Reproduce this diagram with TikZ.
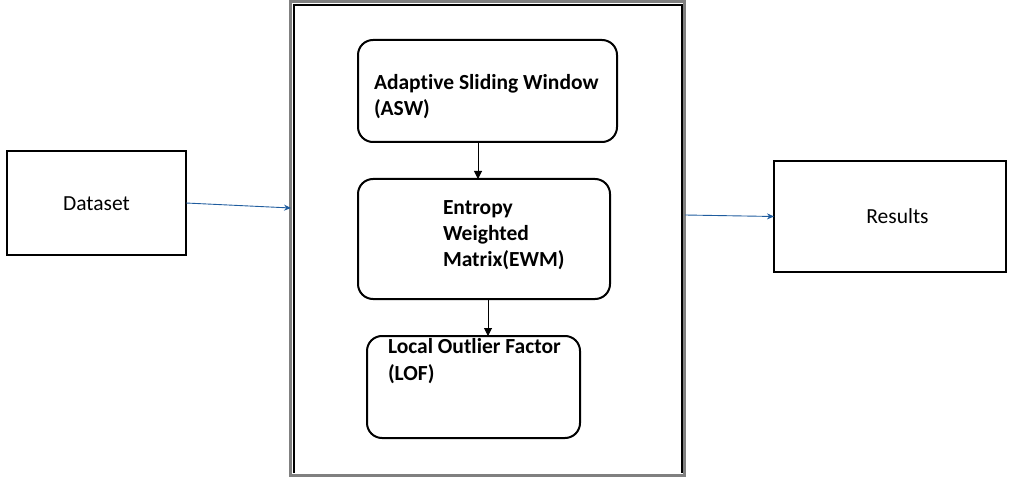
\documentclass[tikz,border=0pt]{standalone}
\usepackage{fontspec}
\setmainfont[Ligatures=NoCommon]{Carlito}
\usetikzlibrary{arrows.meta}
\definecolor{flowblue}{HTML}{1F5C9E}
\definecolor{framegray}{HTML}{808080}
\begin{document}
\begin{tikzpicture}[x=1pt,y=-1pt,
    every node/.style={inner sep=0pt,outer sep=0pt},
    plainbox/.style={draw,line width=2pt},
    stagebox/.style={draw,line width=2pt,rounded corners=15pt},
    stagetext/.style={anchor=base west,align=left,font=\fontsize{21.5}{26.4}\selectfont\bfseries},
    boxtext/.style={font=\fontsize{21.5}{26}\selectfont},
    flow/.style={-{Stealth[length=7pt,width=6pt]},flowblue,line width=0.9pt},
    stagearrow/.style={-{Triangle[length=8pt,width=8pt]},line width=1pt}]
    \useasboundingbox (0,0) rectangle (1022,494);
    % outer frame (gray outside, black inside, open at the bottom)
    \draw[framegray,line width=3pt] (290.5,1.5) rectangle (684.5,475.5);
    \draw[line width=2.5pt] (294,473) -- (294,5) -- (682,5) -- (682,473);
    % input and output
    \node[plainbox,minimum width=179pt,minimum height=104pt] (dataset) at (96.5,203) {};
    \node[boxtext,anchor=base] (datasettext) at (96.5,211) {Dataset};
    \node[plainbox,minimum width=232pt,minimum height=111pt] (results) at (890,216.5) {};
    \node[boxtext,anchor=base] (resultstext) at (897.5,224) {Results};
    % stages inside the frame (text anchored at its last baseline)
    \node[stagebox,minimum width=259pt,minimum height=102pt] (asw) at (487.5,91) {};
    \node[stagetext] (aswtext) at (374,116) {Adaptive Sliding Window\\(ASW)};
    \node[stagebox,minimum width=252pt,minimum height=120pt] (ewm) at (484,239) {};
    \node[stagetext] (ewmtext) at (443,267) {Entropy\\Weighted\\Matrix(EWM)};
    \node[stagebox,minimum width=213pt,minimum height=102pt] (lof) at (473.5,387) {};
    \node[stagetext] (loftext) at (388,380) {Local Outlier Factor\\(LOF)};
    % connectors
    \coordinate (framein) at (291,208);
    \coordinate (frameout) at (685,215);
    \coordinate (colone) at (478,0);
    \coordinate (coltwo) at (488,0);
    \draw[flow] (dataset.east) -- (framein);
    \draw[flow] (frameout) -- (results.west);
    \draw[stagearrow] (asw.south -| colone) -- (ewm.north -| colone);
    \draw[stagearrow] (ewm.south -| coltwo) -- (lof.north -| coltwo);
\end{tikzpicture}
\end{document}
